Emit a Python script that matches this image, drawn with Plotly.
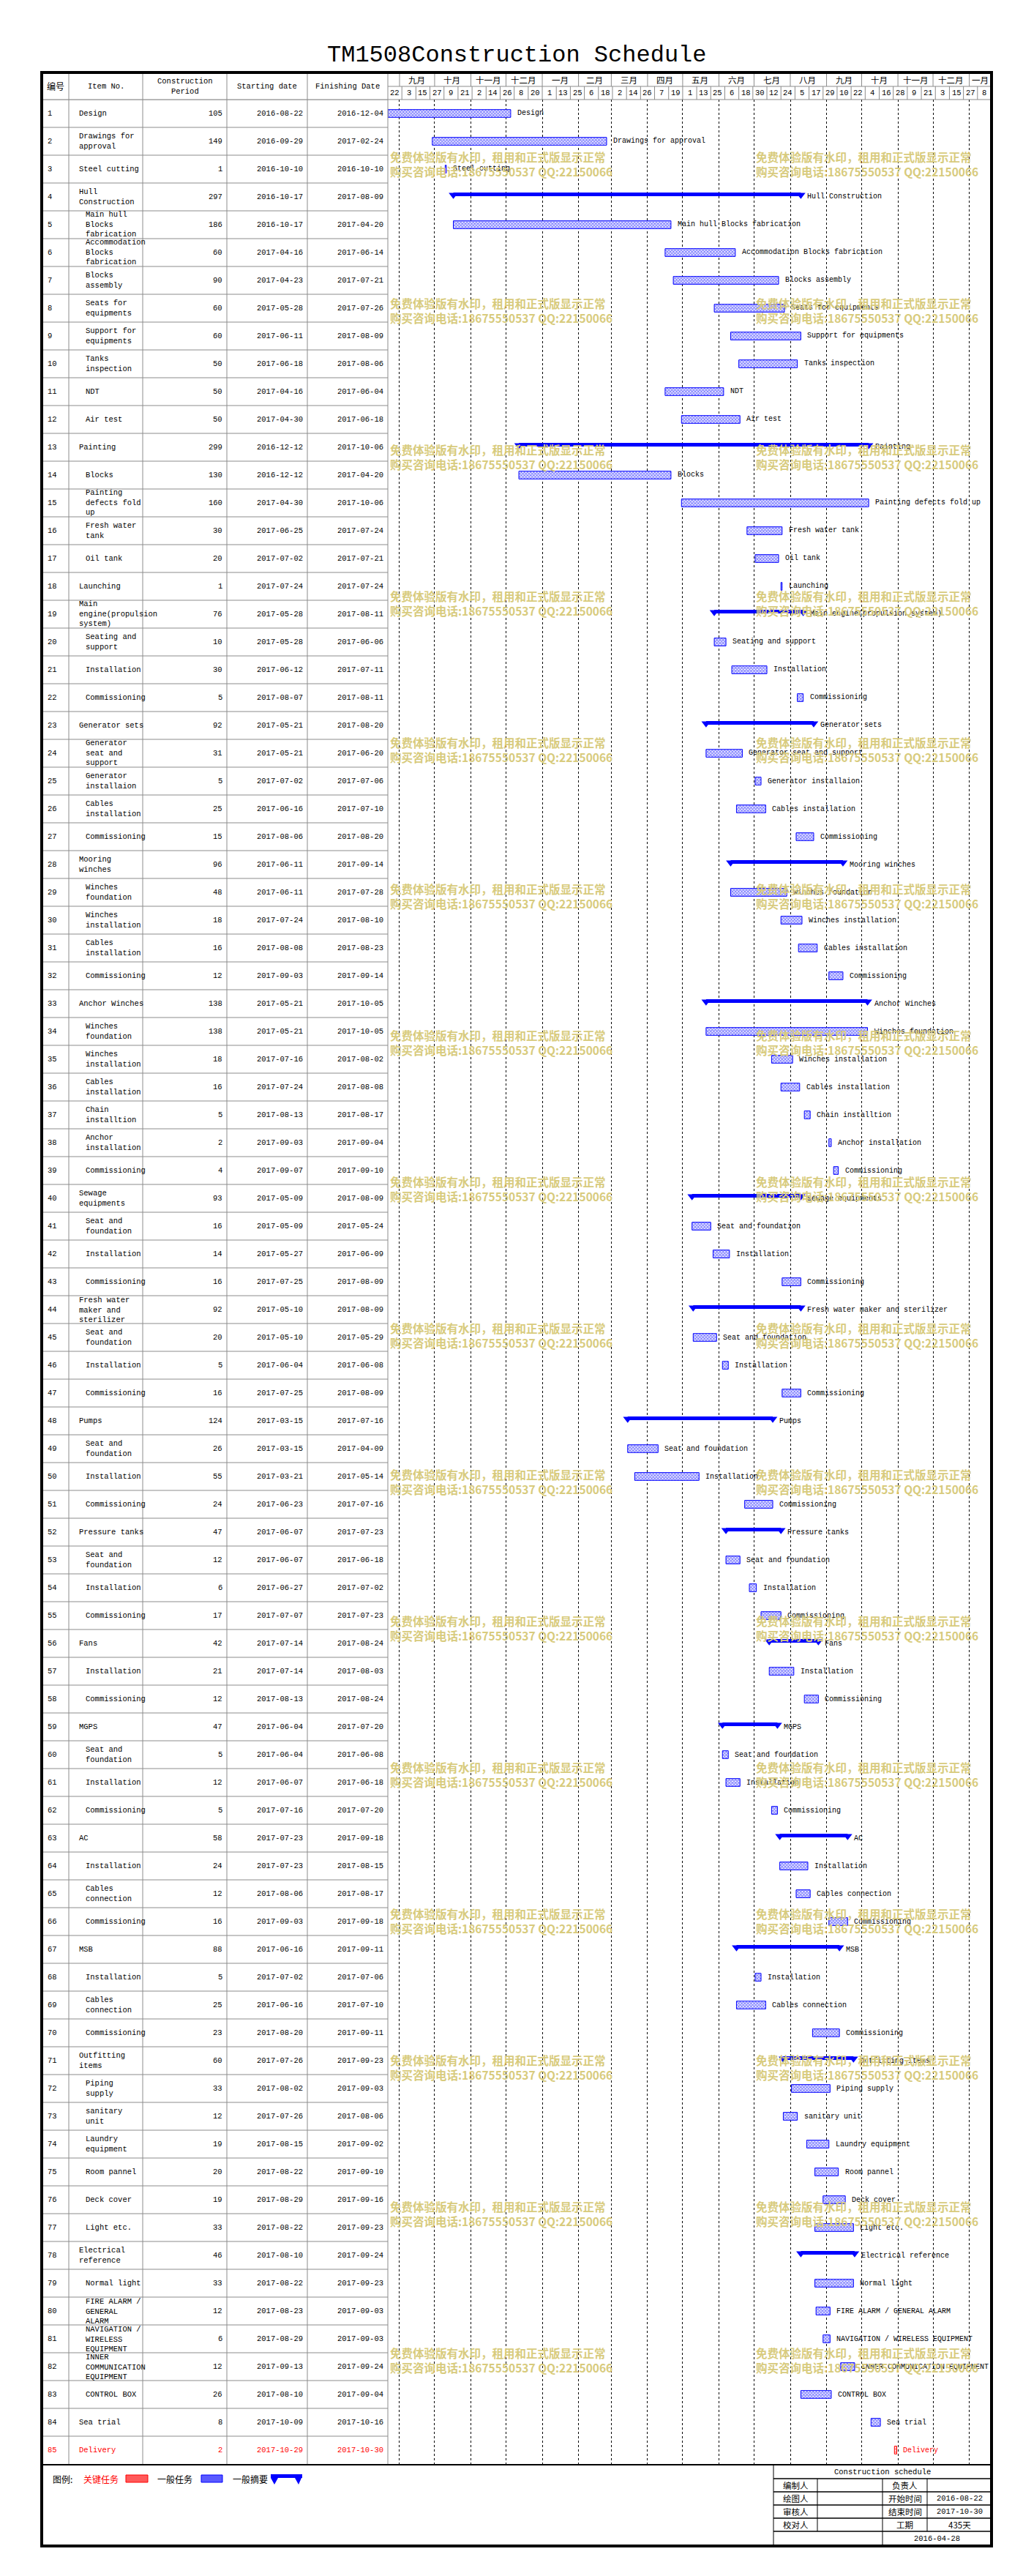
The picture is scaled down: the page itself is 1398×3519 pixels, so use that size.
import textwrap
from datetime import date, timedelta
import plotly.graph_objects as go

W, H = 1398, 3519

# ---------------- data ----------------
tasks = ["Design", "Drawings for approval", "Steel cutting", "Hull Construction",
         "Main hull Blocks fabrication", "Accommodation Blocks fabrication", "Blocks assembly",
         "Seats for equipments", "Support for equipments", "Tanks inspection", "NDT", "Air test",
         "Painting", "Blocks", "Painting defects fold up", "Fresh water tank", "Oil tank",
         "Launching", "Main engine(propulsion system)", "Seating and support", "Installation",
         "Commissioning", "Generator sets", "Generator seat and support", "Generator installaion",
         "Cables installation", "Commissioning", "Mooring winches", "Winches foundation",
         "Winches installation", "Cables installation", "Commissioning", "Anchor Winches",
         "Winches foundation", "Winches installation", "Cables installation", "Chain installtion",
         "Anchor installation", "Commissioning", "Sewage equipments", "Seat and foundation",
         "Installation", "Commissioning", "Fresh water maker and sterilizer", "Seat and foundation",
         "Installation", "Commissioning", "Pumps", "Seat and foundation", "Installation",
         "Commissioning", "Pressure tanks", "Seat and foundation", "Installation", "Commissioning",
         "Fans", "Installation", "Commissioning", "MGPS", "Seat and foundation", "Installation",
         "Commissioning", "AC", "Installation", "Cables connection", "Commissioning", "MSB",
         "Installation", "Cables connection", "Commissioning", "Outfitting items", "Piping supply",
         "sanitary unit", "Laundry equipment", "Room pannel", "Deck cover", "Light etc.",
         "Electrical reference", "Normal light", "FIRE ALARM / GENERAL ALARM",
         "NAVIGATION / WIRELESS EQUIPMENT", "INNER COMMUNICATION EQUIPMENT", "CONTROL BOX",
         "Sea trial", "Delivery"]

levels = [0, 0, 0, 0, 1, 1, 1, 1, 1, 1,
          1, 1, 0, 1, 1, 1, 1, 0, 0, 1,
          1, 1, 0, 1, 1, 1, 1, 0, 1, 1,
          1, 1, 0, 1, 1, 1, 1, 1, 1, 0,
          1, 1, 1, 0, 1, 1, 1, 0, 1, 1,
          1, 0, 1, 1, 1, 0, 1, 1, 0, 1,
          1, 1, 0, 1, 1, 1, 0, 1, 1, 1,
          0, 1, 1, 1, 1, 1, 1, 0, 1, 1,
          1, 1, 1, 0, 0]

periods = [105, 149, 1, 297, 186, 60, 90, 60, 60, 50,
           50, 50, 299, 130, 160, 30, 20, 1, 76, 10,
           30, 5, 92, 31, 5, 25, 15, 96, 48, 18,
           16, 12, 138, 138, 18, 16, 5, 2, 4, 93,
           16, 14, 16, 92, 20, 5, 16, 124, 26, 55,
           24, 47, 12, 6, 17, 42, 21, 12, 47, 5,
           12, 5, 58, 24, 12, 16, 88, 5, 25, 23,
           60, 33, 12, 19, 20, 19, 33, 46, 33, 12,
           6, 12, 26, 8, 2]

starts = ["2016-08-22", "2016-09-29", "2016-10-10", "2016-10-17", "2016-10-17", "2017-04-16", "2017-04-23", "2017-05-28", "2017-06-11", "2017-06-18",
          "2017-04-16", "2017-04-30", "2016-12-12", "2016-12-12", "2017-04-30", "2017-06-25", "2017-07-02", "2017-07-24", "2017-05-28", "2017-05-28",
          "2017-06-12", "2017-08-07", "2017-05-21", "2017-05-21", "2017-07-02", "2017-06-16", "2017-08-06", "2017-06-11", "2017-06-11", "2017-07-24",
          "2017-08-08", "2017-09-03", "2017-05-21", "2017-05-21", "2017-07-16", "2017-07-24", "2017-08-13", "2017-09-03", "2017-09-07", "2017-05-09",
          "2017-05-09", "2017-05-27", "2017-07-25", "2017-05-10", "2017-05-10", "2017-06-04", "2017-07-25", "2017-03-15", "2017-03-15", "2017-03-21",
          "2017-06-23", "2017-06-07", "2017-06-07", "2017-06-27", "2017-07-07", "2017-07-14", "2017-07-14", "2017-08-13", "2017-06-04", "2017-06-04",
          "2017-06-07", "2017-07-16", "2017-07-23", "2017-07-23", "2017-08-06", "2017-09-03", "2017-06-16", "2017-07-02", "2017-06-16", "2017-08-20",
          "2017-07-26", "2017-08-02", "2017-07-26", "2017-08-15", "2017-08-22", "2017-08-29", "2017-08-22", "2017-08-10", "2017-08-22", "2017-08-23",
          "2017-08-29", "2017-09-13", "2017-08-10", "2017-10-09", "2017-10-29"]

ends = ["2016-12-04", "2017-02-24", "2016-10-10", "2017-08-09", "2017-04-20", "2017-06-14", "2017-07-21", "2017-07-26", "2017-08-09", "2017-08-06",
        "2017-06-04", "2017-06-18", "2017-10-06", "2017-04-20", "2017-10-06", "2017-07-24", "2017-07-21", "2017-07-24", "2017-08-11", "2017-06-06",
        "2017-07-11", "2017-08-11", "2017-08-20", "2017-06-20", "2017-07-06", "2017-07-10", "2017-08-20", "2017-09-14", "2017-07-28", "2017-08-10",
        "2017-08-23", "2017-09-14", "2017-10-05", "2017-10-05", "2017-08-02", "2017-08-08", "2017-08-17", "2017-09-04", "2017-09-10", "2017-08-09",
        "2017-05-24", "2017-06-09", "2017-08-09", "2017-08-09", "2017-05-29", "2017-06-08", "2017-08-09", "2017-07-16", "2017-04-09", "2017-05-14",
        "2017-07-16", "2017-07-23", "2017-06-18", "2017-07-02", "2017-07-23", "2017-08-24", "2017-08-03", "2017-08-24", "2017-07-20", "2017-06-08",
        "2017-06-18", "2017-07-20", "2017-09-18", "2017-08-15", "2017-08-17", "2017-09-18", "2017-09-11", "2017-07-06", "2017-07-10", "2017-09-11",
        "2017-09-23", "2017-09-03", "2017-08-06", "2017-09-02", "2017-09-10", "2017-09-16", "2017-09-23", "2017-09-24", "2017-09-23", "2017-09-03",
        "2017-09-03", "2017-09-24", "2017-09-04", "2017-10-16", "2017-10-30"]

summary_rows = [4, 13, 19, 23, 28, 33, 40, 44, 48, 52, 56, 59, 63, 67, 71, 78]
critical_rows = [85]

month_starts = ["2016-09-01", "2016-10-01", "2016-11-01", "2016-12-01", "2017-01-01", "2017-02-01",
                "2017-03-01", "2017-04-01", "2017-05-01", "2017-06-01", "2017-07-01", "2017-08-01",
                "2017-09-01", "2017-10-01", "2017-11-01", "2017-12-01", "2018-01-01"]
month_labels = ["九月", "十月", "十一月", "十二月", "一月", "二月", "三月", "四月", "五月", "六月",
                "七月", "八月", "九月", "十月", "十一月", "十二月", "一月"]
day_labels = [22, 3, 15, 27, 9, 21, 2, 14, 26, 8, 20, 1, 13, 25, 6, 18, 2, 14, 26, 7, 19,
              1, 13, 25, 6, 18, 30, 12, 24, 5, 17, 29, 10, 22, 4, 16, 28, 9, 21, 3, 15, 27, 8]
axis_start = "2016-08-22"
axis_end = "2018-01-20"

header_labels = ["编号", "Item No.", "Construction<br>Period", "Starting date", "Finishing Date"]
block_info = [("编制人", "", "负责人", ""), ("绘图人", "", "开始时间", "2016-08-22"),
              ("审核人", "", "结束时间", "2017-10-30"), ("校对人", "", "工期", "435天")]
block_title = "Construction schedule"
block_date = "2016-04-28"
title = "TM1508Construction Schedule"
wm1 = "免费体验版有水印，租用和正式版显示正常"
wm2 = "购买咨询电话:18675550537 QQ:22150066"

assert len(tasks) == len(levels) == len(periods) == len(starts) == len(ends) == 85

# ---------------- helpers ----------------
MONO = "Liberation Mono, DejaVu Sans Mono, monospace"
CJK = "Noto Sans CJK SC, sans-serif"
GRAY = "#8c8c8c"
BLUE = "#0000FF"
RED = "#FF0000"
DAY_MS = 86400000


def px(v):
    return v / W


def py(v):
    return 1 - v / H


def d(s):
    return date.fromisoformat(s)


rows = list(range(1, 86))
X_L, X_R = 522, 1347
Y_T, Y_B = 128, 3358

fig = go.Figure()

# ---------------- bars ----------------
task_idx = [i for i in range(85) if rows[i] not in summary_rows and rows[i] not in critical_rows]
crit_idx = [i for i in range(85) if rows[i] in critical_rows]
sum_idx = [i for i in range(85) if rows[i] in summary_rows]


def dur(i):
    return ((d(ends[i]) - d(starts[i])).days + 1) * DAY_MS


fig.add_trace(go.Bar(
    orientation="h", y=[rows[i] for i in task_idx], x=[dur(i) for i in task_idx],
    base=[starts[i] for i in task_idx], width=0.28,
    marker=dict(color=BLUE, line=dict(color=BLUE, width=1),
                pattern=dict(shape="x", fgcolor=BLUE, bgcolor="white", size=3, solidity=0.6)),
    showlegend=False, hoverinfo="skip"))

fig.add_trace(go.Bar(
    orientation="h", y=[rows[i] for i in crit_idx], x=[dur(i) for i in crit_idx],
    base=[starts[i] for i in crit_idx], width=0.28,
    marker=dict(color=RED, line=dict(color=RED, width=1),
                pattern=dict(shape="x", fgcolor=RED, bgcolor="white", size=3, solidity=0.6)),
    showlegend=False, hoverinfo="skip"))

lx, ly, mx, my = [], [], [], []
for i in sum_idx:
    e = (d(ends[i]) + timedelta(days=1)).isoformat()
    lx += [starts[i], e, None]
    ly += [rows[i] - 0.092, rows[i] - 0.092, None]
    mx += [starts[i], e]
    my += [rows[i] - 0.075, rows[i] - 0.075]
fig.add_trace(go.Scatter(x=lx, y=ly, mode="lines", line=dict(color=BLUE, width=5),
                         showlegend=False, hoverinfo="skip"))
fig.add_trace(go.Scatter(x=mx, y=my, mode="markers",
                         marker=dict(symbol="triangle-down", size=11, color=BLUE, line=dict(width=0)),
                         showlegend=False, hoverinfo="skip"))

annotations = []
shapes = []

# bar labels
for i in range(85):
    e = (d(ends[i]) + timedelta(days=1)).isoformat()
    col = RED if rows[i] in critical_rows else "black"
    annotations.append(dict(x=e, y=rows[i], xref="x", yref="y", text=tasks[i], showarrow=False,
                            xanchor="left", yanchor="middle", xshift=7,
                            font=dict(family=MONO, size=10, color=col)))

# ---------------- table ----------------
TF = 10.5
for i in range(85):
    col = RED if rows[i] in critical_rows else "black"
    r = rows[i]
    width = 14 if levels[i] == 0 else 12
    wrapped = "<br>".join(textwrap.wrap(tasks[i], width, break_long_words=False))
    xi = 98 if levels[i] == 0 else 107
    cells = [(str(r), 55, "left"), (wrapped, xi, "left"), (str(periods[i]), 298, "right"),
             (starts[i], 408, "right"), (ends[i], 518, "right")]
    for txt, xx, anc in cells:
        annotations.append(dict(x=px(xx), y=r, xref="paper", yref="y", text=txt, showarrow=False,
                                xanchor=anc, yanchor="middle", align="left",
                                font=dict(family=MONO, size=TF, color=col)))

# header
col_edges = [49, 86, 187, 302, 412, 522]
for k, lab in enumerate(header_labels):
    cx = (col_edges[k] + col_edges[k + 1]) / 2
    fam = CJK if k == 0 else MONO
    annotations.append(dict(x=px(cx), y=py(110), xref="paper", yref="paper", text=lab,
                            showarrow=False, xanchor="center", yanchor="middle", align="center",
                            font=dict(family=fam, size=12 if k == 0 else TF, color="black")))

# table lines
for xe in col_edges[1:]:
    shapes.append(dict(type="line", xref="paper", yref="paper", x0=px(xe), x1=px(xe),
                       y0=py(91), y1=py(Y_B), line=dict(color=GRAY, width=1)))
for k in range(85):
    shapes.append(dict(type="line", xref="paper", yref="y", x0=px(49), x1=px(X_L),
                       y0=k + 0.5, y1=k + 0.5, line=dict(color=GRAY, width=1)))
shapes.append(dict(type="line", xref="paper", yref="paper", x0=px(49), x1=px(X_R),
                   y0=py(Y_T), y1=py(Y_T), line=dict(color=GRAY, width=1)))
shapes.append(dict(type="line", xref="paper", yref="paper", x0=px(X_L), x1=px(X_R),
                   y0=py(110), y1=py(110), line=dict(color=GRAY, width=1)))
shapes.append(dict(type="line", xref="paper", yref="paper", x0=px(49), x1=px(X_R),
                   y0=py(Y_B + 1), y1=py(Y_B + 1), line=dict(color="black", width=2)))

# month header
a0, a1 = d(axis_start), d(axis_end)
for k, ms in enumerate(month_starts):
    s = d(ms)
    e = d(month_starts[k + 1]) if k + 1 < len(month_starts) else a1
    e = min(e, a1)
    mid = s + (e - s) / 2
    annotations.append(dict(x=mid.isoformat(), y=py(101.5), xref="x", yref="paper",
                            text=month_labels[k], showarrow=False, xanchor="center",
                            yanchor="middle", font=dict(family=CJK, size=11.5, color="black")))
    shapes.append(dict(type="line", xref="x", yref="paper", x0=ms, x1=ms, y0=py(93), y1=py(110),
                       line=dict(color=GRAY, width=1)))

# day header
for k, lab in enumerate(day_labels):
    t0 = a0 + timedelta(days=12 * k)
    cen = t0 + timedelta(days=6)
    annotations.append(dict(x=cen.isoformat(), y=py(119), xref="x", yref="paper",
                            text=str(lab), showarrow=False, xanchor="center", yanchor="middle",
                            font=dict(family=MONO, size=10.5, color="black")))
    if k > 0:
        shapes.append(dict(type="line", xref="x", yref="paper", x0=t0.isoformat(), x1=t0.isoformat(),
                           y0=py(110), y1=py(Y_T), line=dict(color=GRAY, width=1)))

# frame
shapes.append(dict(type="rect", xref="paper", yref="paper", x0=px(49), x1=px(X_R),
                   y0=py(91), y1=py(3470), line=dict(color="black", width=4)))

# title
annotations.append(dict(x=px(698), y=py(68), xref="paper", yref="paper", text=title,
                        showarrow=False, xanchor="center", yanchor="middle",
                        font=dict(family=MONO, size=32, color="black")))

# watermarks
for k in range(16):
    for xx in (523, 1023):
        annotations.append(dict(x=px(xx), y=py(216 + 200 * k), xref="paper", yref="paper",
                                text="<b>" + wm1 + "<br>" + wm2 + "</b>", showarrow=False,
                                xanchor="left", yanchor="middle", align="left",
                                font=dict(family=CJK, size=15.5, color="rgb(216,203,125)")))

# legend
LY = 3378
annotations.append(dict(x=px(62), y=py(LY), xref="paper", yref="paper", text="图例:",
                        showarrow=False, xanchor="left", yanchor="middle",
                        font=dict(family=CJK, size=12, color="black")))
annotations.append(dict(x=px(104), y=py(LY), xref="paper", yref="paper", text="关键任务",
                        showarrow=False, xanchor="left", yanchor="middle",
                        font=dict(family=CJK, size=12, color=RED)))
annotations.append(dict(x=px(205), y=py(LY), xref="paper", yref="paper", text="一般任务",
                        showarrow=False, xanchor="left", yanchor="middle",
                        font=dict(family=CJK, size=12, color="black")))
annotations.append(dict(x=px(308), y=py(LY), xref="paper", yref="paper", text="一般摘要",
                        showarrow=False, xanchor="left", yanchor="middle",
                        font=dict(family=CJK, size=12, color="black")))
shapes.append(dict(type="rect", xref="paper", yref="paper", x0=px(164), x1=px(194),
                   y0=py(3373), y1=py(3383), fillcolor="#FF5A5A", line=dict(color=RED, width=1)))
shapes.append(dict(type="rect", xref="paper", yref="paper", x0=px(267), x1=px(296),
                   y0=py(3373), y1=py(3383), fillcolor="#5A5AFF", line=dict(color=BLUE, width=1)))
pts = [(362, 3372), (405, 3372), (405, 3377), (404, 3377), (400, 3386), (395, 3377),
       (372, 3377), (367, 3386), (362, 3377)]
path = "M " + " L ".join(f"{px(a):.6f},{py(b):.6f}" for a, b in pts) + " Z"
shapes.append(dict(type="path", xref="paper", yref="paper", path=path, fillcolor=BLUE,
                   line=dict(color=BLUE, width=0)))

# title block
BX = [1049, 1109, 1198, 1259, 1347]
BY = [3359, 3378, 3396, 3414, 3432, 3450, 3470]
for yy in BY[1:6]:
    shapes.append(dict(type="line", xref="paper", yref="paper", x0=px(BX[0]), x1=px(BX[4]),
                       y0=py(yy), y1=py(yy), line=dict(color="black", width=1.5)))
shapes.append(dict(type="line", xref="paper", yref="paper", x0=px(BX[0]), x1=px(BX[0]),
                   y0=py(BY[0]), y1=py(BY[6]), line=dict(color="black", width=1)))
shapes.append(dict(type="line", xref="paper", yref="paper", x0=px(BX[2]), x1=px(BX[2]),
                   y0=py(BY[1]), y1=py(BY[6]), line=dict(color="black", width=1)))
for xx in (BX[1], BX[3]):
    shapes.append(dict(type="line", xref="paper", yref="paper", x0=px(xx), x1=px(xx),
                       y0=py(BY[1]), y1=py(BY[5]), line=dict(color="black", width=1)))
annotations.append(dict(x=px((BX[0] + BX[4]) / 2), y=py((BY[0] + BY[1]) / 2), xref="paper",
                        yref="paper", text=block_title, showarrow=False, xanchor="center",
                        yanchor="middle", font=dict(family=MONO, size=10.5, color="black")))
for r, vals in enumerate(block_info):
    yc = (BY[r + 1] + BY[r + 2]) / 2
    for c, txt in enumerate(vals):
        if not txt:
            continue
        cx = (BX[c] + BX[c + 1]) / 2
        fam = MONO if txt[0].isdigit() and "天" not in txt else CJK
        annotations.append(dict(x=px(cx), y=py(yc), xref="paper", yref="paper", text=txt,
                                showarrow=False, xanchor="center", yanchor="middle",
                                font=dict(family=fam, size=11.5 if fam == CJK else 10.5, color="black")))
annotations.append(dict(x=px((BX[2] + BX[4]) / 2), y=py((BY[5] + BY[6]) / 2), xref="paper",
                        yref="paper", text=block_date, showarrow=False, xanchor="center",
                        yanchor="middle", font=dict(family=MONO, size=10.5, color="black")))

fig.update_layout(
    width=W, height=H, autosize=False,
    margin=dict(l=0, r=0, t=0, b=0, pad=0),
    paper_bgcolor="white", plot_bgcolor="white",
    showlegend=False, barmode="overlay",
    xaxis=dict(type="date", domain=[px(X_L), px(X_R)], range=[axis_start, axis_end],
               tickmode="array", tickvals=month_starts, showticklabels=False, ticks="",
               showgrid=True, gridcolor="black", griddash="dot", gridwidth=1,
               zeroline=False, showline=False, fixedrange=True),
    yaxis=dict(domain=[py(Y_B), py(Y_T)], range=[85.5, 0.5], showticklabels=False,
               showgrid=False, zeroline=False, showline=False, ticks="", fixedrange=True),
    annotations=annotations, shapes=shapes,
)

fig.write_html("out.html")
